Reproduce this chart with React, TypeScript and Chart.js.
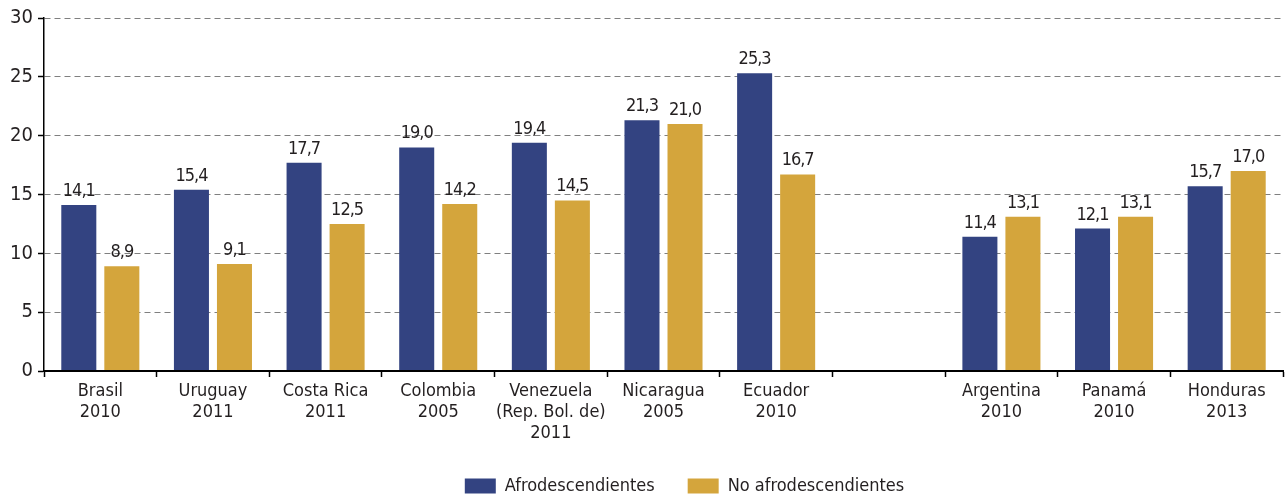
import React, { useEffect, useRef } from "react";
import { Chart, registerables } from "chart.js";

Chart.register(...registerables);

const categories: (string | string[])[] = [
  ["Brasil", "2010"],
  ["Uruguay", "2011"],
  ["Costa Rica", "2011"],
  ["Colombia", "2005"],
  ["Venezuela", "(Rep. Bol. de)", "2011"],
  ["Nicaragua", "2005"],
  ["Ecuador", "2010"],
  "",
  ["Argentina", "2010"],
  ["Panamá", "2010"],
  ["Honduras", "2013"],
];

const afroValues: (number | null)[] = [14.1, 15.4, 17.7, 19.0, 19.4, 21.3, 25.3, null, 11.4, 12.1, 15.7];
const noAfroValues: (number | null)[] = [8.9, 9.1, 12.5, 14.2, 14.5, 21.0, 16.7, null, 13.1, 13.1, 17.0];

const seriesNames = ["Afrodescendientes", "No afrodescendientes"];
const yTicks = [0, 5, 10, 15, 20, 25, 30];

const FONT = '"Liberation Sans Narrow", "DejaVu Sans Condensed", "Roboto Condensed", Roboto, sans-serif';
const TEXT = "#231f20";
const BLUE = "#334381";
const GOLD = "#d4a53c";

const dataLabels = {
  id: "dataLabels",
  afterDatasetsDraw(chart: any) {
    const ctx = chart.ctx;
    ctx.save();
    ctx.font = `18px ${FONT}`;
    try {
      (ctx as any).letterSpacing = "-1px";
    } catch (e) {}
    ctx.fillStyle = TEXT;
    ctx.textAlign = "center";
    ctx.textBaseline = "alphabetic";
    chart.data.datasets.forEach((ds: any, di: number) => {
      const meta = chart.getDatasetMeta(di);
      meta.data.forEach((bar: any, i: number) => {
        const v = ds.data[i];
        if (v === null || v === undefined) return;
        ctx.fillText(v.toFixed(1).replace(".", ","), bar.x, bar.y - 9);
      });
    });
    ctx.restore();
  },
};

const legendShift = {
  id: "legendShift",
  afterLayout(chart: any) {
    if (chart.legend) {
      chart.legend.left += 43;
      chart.legend.right += 43;
    }
  },
};

export default function App() {
  const ref = useRef<HTMLCanvasElement | null>(null);
  useEffect(() => {
    document.body.style.margin = "0";
    if (!ref.current) return;
    const chart = new Chart(ref.current, {
      type: "bar",
      data: {
        labels: categories,
        datasets: [
          {
            label: seriesNames[0],
            data: afroValues,
            backgroundColor: BLUE,
            borderColor: BLUE,
            borderWidth: 0,
            categoryPercentage: 0.764,
            barPercentage: 0.814,
          },
          {
            label: seriesNames[1],
            data: noAfroValues,
            backgroundColor: GOLD,
            borderColor: GOLD,
            borderWidth: 0,
            categoryPercentage: 0.764,
            barPercentage: 0.814,
          },
        ],
      },
      options: {
        responsive: false,
        animation: false,
        devicePixelRatio: 1,
        layout: { padding: { left: 0, top: 18, right: 2, bottom: 0 } },
        plugins: {
          legend: {
            position: "bottom",
            maxHeight: 54,
            labels: {
              boxWidth: 31,
              boxHeight: 15,
              padding: 33,
              color: TEXT,
              font: { family: FONT, size: 18 },
            },
          },
          tooltip: { enabled: false },
        },
        scales: {
          x: {
            offset: true,
            grid: {
              offset: true,
              drawOnChartArea: false,
              drawTicks: true,
              tickLength: 6,
              tickColor: "#000",
              tickWidth: 1.5,
            },
            border: { display: true, color: "#000", width: 2, z: 1 },
            ticks: {
              color: TEXT,
              padding: 4,
              maxRotation: 0,
              autoSkip: false,
              font: { family: FONT, size: 18, lineHeight: 21 / 18 },
            },
            afterFit(scale: any) {
              scale.height = 73;
            },
          },
          y: {
            min: 0,
            max: 30,
            afterBuildTicks(scale: any) {
              scale.ticks = yTicks.map((v) => ({ value: v }));
            },
            grid: {
              color: "#7f7f7f",
              lineWidth: 1,
              drawTicks: true,
              tickLength: 6,
              tickColor: "#000",
              tickWidth: 1.5,
              tickBorderDash: [],
            },
            border: { display: true, color: "#000", width: 1.5, dash: [6, 4] },
            ticks: {
              color: TEXT,
              padding: 5,
              font: { family: FONT, size: 20 },
            },
            afterFit(scale: any) {
              scale.width = 44;
            },
          },
        },
      },
      plugins: [dataLabels, legendShift],
    } as any);
    return () => chart.destroy();
  }, []);
  return (
    <div style={{ width: 1285, height: 498 }}>
      <canvas ref={ref} width={1285} height={498} style={{ display: "block" }} />
    </div>
  );
}
